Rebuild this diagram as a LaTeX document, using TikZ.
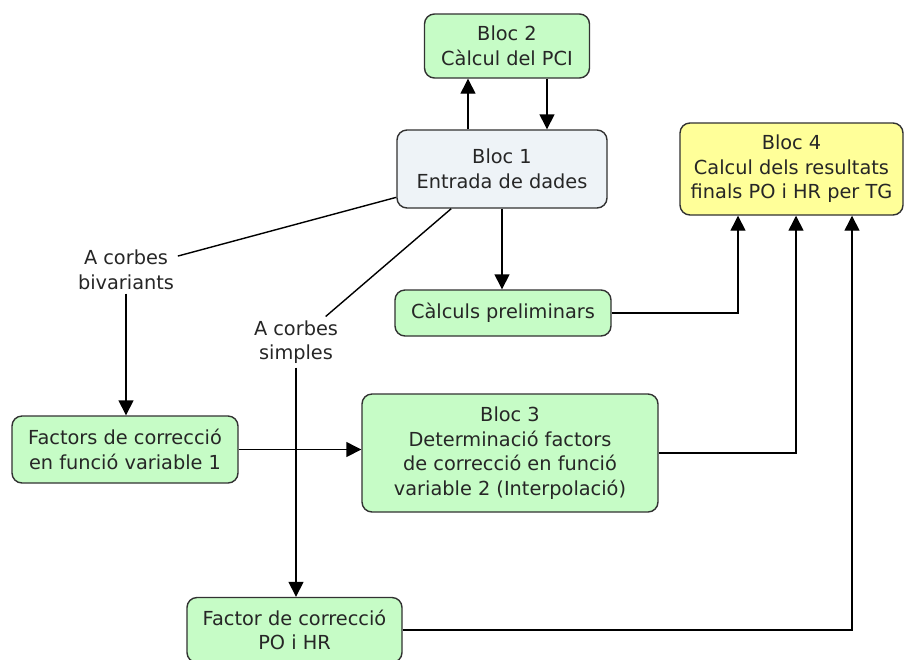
\documentclass[tikz,border=0pt]{standalone}
\usepackage{fontspec}
\setmainfont{DejaVu Sans}
\usetikzlibrary{arrows.meta}
\usetikzlibrary{positioning}
\definecolor{boxgreen}{RGB}{198,252,198}
\definecolor{boxgrey}{RGB}{238,243,247}
\definecolor{boxyellow}{RGB}{255,255,153}
\definecolor{edgegrey}{RGB}{50,50,50}

\begin{document}
\begin{tikzpicture}[
  box/.style={draw=edgegrey,line width=0.8pt,rounded corners=0.2cm,fill=boxgreen,align=center,text=black!85,font=\fontsize{11}{14}\selectfont,inner sep=0pt},
  lbl/.style={align=center,text=black!85,font=\fontsize{11}{14}\selectfont,inner sep=2pt},
  arr/.style={line width=0.8pt,-{Triangle[length=0.3cm,width=0.3cm]}},
  ln/.style={line width=0.8pt}]
\clip (0,0) rectangle (18.08,-13.18);
\fill[white] (0,0) rectangle (18.08,-13.18);

\node[box,minimum width=3.3cm,minimum height=1.28cm] (b2) at (10.14,-0.92) {Bloc 2\\Càlcul del PCI};
\node[box,fill=boxgrey,minimum width=4.2cm,minimum height=1.56cm] (b1) at (10.04,-3.38) {Bloc 1\\Entrada de dades};
\node[box,fill=boxyellow,minimum width=4.46cm,minimum height=1.84cm] (b4) at (15.83,-3.38) {Bloc 4\\Calcul dels resultats\\finals PO i HR per TG};
\node[box,minimum width=4.32cm,minimum height=0.92cm] (calc) at (10.06,-6.26) {Càlculs preliminars};
\node[box,minimum width=4.52cm,minimum height=1.34cm] (fac) at (2.5,-8.99) {Factors de correcció\\en funció variable 1};
\node[box,minimum width=5.92cm,minimum height=2.36cm] (b3) at (10.2,-9.06) {Bloc 3\\Determinació factors\\de correcció en funció\\variable 2 (Interpolació)};
\node[box,minimum width=4.3cm,minimum height=1.3cm] (po) at (5.89,-12.6) {Factor de correcció\\PO i HR};

\node[lbl] (biv) at (2.52,-5.4) {A corbes\\bivariants};
\node[lbl] (simp) at (5.92,-6.84) {A corbes\\simples};

% bloc 1 <-> bloc 2
\draw[arr] ([xshift=-0.78cm]b2.south |- b1.north) -- ([xshift=-0.78cm]b2.south);
\draw[arr] ([xshift=0.8cm]b2.south) -- ([xshift=0.8cm]b2.south |- b1.north);
\draw[arr] (b1.south) -- (b1.south |- calc.north);

% branques
\draw[ln] (b1.195) -- (biv);
\draw[arr] (biv.south) -- (biv.south |- fac.north);
\draw[ln] (b1.218) -- (simp);
\draw[arr] (simp.south) -- (simp.south |- po.north);
\draw[arr] (fac.east) -- (fac.east -| b3.west);

% cap al bloc 4
\draw[arr] (calc.east) -| ([xshift=-1.07cm]b4.south);
\draw[arr] (b3.east) -| ([xshift=0.09cm]b4.south);
\draw[arr] (po.east) -| ([xshift=1.21cm]b4.south);

\end{tikzpicture}
\end{document}
